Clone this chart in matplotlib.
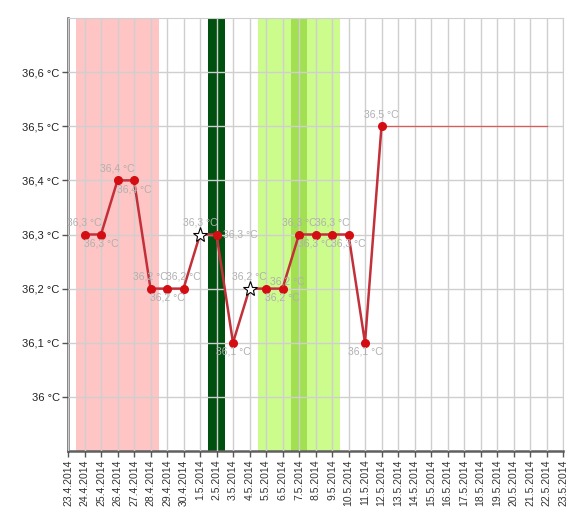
import matplotlib
matplotlib.use("Agg")
import matplotlib.pyplot as plt


# x axis: one tick per day, 23.4.2014 .. 23.5.2014
AXIS_DAYS = ["23.4.2014", "24.4.2014", "25.4.2014", "26.4.2014", "27.4.2014",
             "28.4.2014", "29.4.2014", "30.4.2014", "1.5.2014", "2.5.2014",
             "3.5.2014", "4.5.2014", "5.5.2014", "6.5.2014", "7.5.2014",
             "8.5.2014", "9.5.2014", "10.5.2014", "11.5.2014", "12.5.2014",
             "13.5.2014", "14.5.2014", "15.5.2014", "16.5.2014", "17.5.2014",
             "18.5.2014", "19.5.2014", "20.5.2014", "21.5.2014", "22.5.2014",
             "23.5.2014"]

# measured temperatures
TEMP_DAYS = ["24.4.2014", "25.4.2014", "26.4.2014", "27.4.2014", "28.4.2014",
             "29.4.2014", "30.4.2014", "1.5.2014", "2.5.2014", "3.5.2014",
             "4.5.2014", "5.5.2014", "6.5.2014", "7.5.2014", "8.5.2014",
             "9.5.2014", "10.5.2014", "11.5.2014", "12.5.2014"]
TEMPS = [36.3, 36.3, 36.4, 36.4, 36.2, 36.2, 36.2, 36.3, 36.3, 36.1,
         36.2, 36.2, 36.2, 36.3, 36.3, 36.3, 36.3, 36.1, 36.5]
STAR_DAYS = ["1.5.2014", "4.5.2014"]

# projection after last value
PROJ_DAYS = ["12.5.2014", "22.5.2014"]
PROJ_TEMP = 36.5

# shaded day ranges (first day, last day)
PERIOD = ("24.4.2014", "28.4.2014")
PEAK = ("2.5.2014", "2.5.2014")
FERTILE = ("5.5.2014", "9.5.2014")
FERTILE_HIGH = ("7.5.2014", "7.5.2014")

# where each value label sits relative to its point
LABEL_POS = ["up", "down", "up", "down", "up", "down", "up", "up", "right", "down",
             "up", "upright", "down", "up", "down", "up", "down", "down", "up"]


def idx(day):
    return AXIS_DAYS.index(day)


def fmt(v):
    s = "%.1f" % v
    if s.endswith(".0"):
        s = s[:-2]
    return s.replace(".", ",") + " °C"


plt.rcParams['font.family'] = ['Liberation Sans', 'DejaVu Sans']

fig = plt.figure(figsize=(5.82, 5.08), dpi=100)
ax = fig.add_axes([68 / 582, 1 - 451 / 508, (563 - 68) / 582, (451 - 18) / 508])

for (a, b), col in [(PERIOD, '#ffc4c4'), (PEAK, '#00500f'),
                    (FERTILE, '#ccfc8c'), (FERTILE_HIGH, '#a2e052')]:
    ax.axvspan(idx(a) - 0.5, idx(b) + 0.5, color=col, lw=0, zorder=0)

x = [idx(d) for d in TEMP_DAYS]
ax.plot([idx(d) for d in PROJ_DAYS], [PROJ_TEMP] * 2, color='#dc5a5a', lw=0.9, zorder=3)
ax.plot(x, TEMPS, color='#c2303a', lw=1.8, zorder=4)
dots = [(xi, t) for xi, t, d in zip(x, TEMPS, TEMP_DAYS) if d not in STAR_DAYS]
ax.plot([p[0] for p in dots], [p[1] for p in dots], 'o', color='#d40d12', ms=5.5, zorder=5)
stars = [(xi, t) for xi, t, d in zip(x, TEMPS, TEMP_DAYS) if d in STAR_DAYS]
ax.plot([p[0] for p in stars], [p[1] for p in stars], '*', mfc='white', mec='black',
        mew=0.8, ms=11, zorder=6)

offsets = {"up": (0, 8.5, 'center'), "down": (0, -6.5, 'center'),
           "right": (5, 0, 'left'), "upright": (3, 5, 'left')}
for xi, t, pos in zip(x, TEMPS, LABEL_POS):
    dx, dy, ha = offsets[pos]
    ax.annotate(fmt(t), (xi, t), xytext=(dx, dy), textcoords='offset points',
                ha=ha, va='center', fontsize=7.5, color='#b0b0b0', zorder=7)

ax.set_xlim(0, len(AXIS_DAYS) - 1)
ax.set_ylim(35.9, 36.7)
ax.set_xticks(range(len(AXIS_DAYS)))
ax.set_xticklabels(AXIS_DAYS, rotation=90, fontsize=7.5, color='#333333')
yt = [36.0, 36.1, 36.2, 36.3, 36.4, 36.5, 36.6]
ax.set_yticks(yt)
ax.set_yticklabels([fmt(v) for v in yt], fontsize=8, color='#222222')
ax.tick_params(axis='both', length=4, width=1, color='#555555', pad=2)

ax.grid(True, color='#cfcfcf', lw=1)
ax.set_axisbelow(False)
for g in ax.get_xgridlines() + ax.get_ygridlines():
    g.set_zorder(1)

ax.spines['left'].set_color('#606060')
ax.spines['left'].set_linewidth(1.8)
ax.spines['bottom'].set_color('#606060')
ax.spines['bottom'].set_linewidth(1.8)
ax.spines['top'].set_color('#cfcfcf')
ax.spines['right'].set_color('#cfcfcf')

fig.savefig("out.png", dpi=100)
